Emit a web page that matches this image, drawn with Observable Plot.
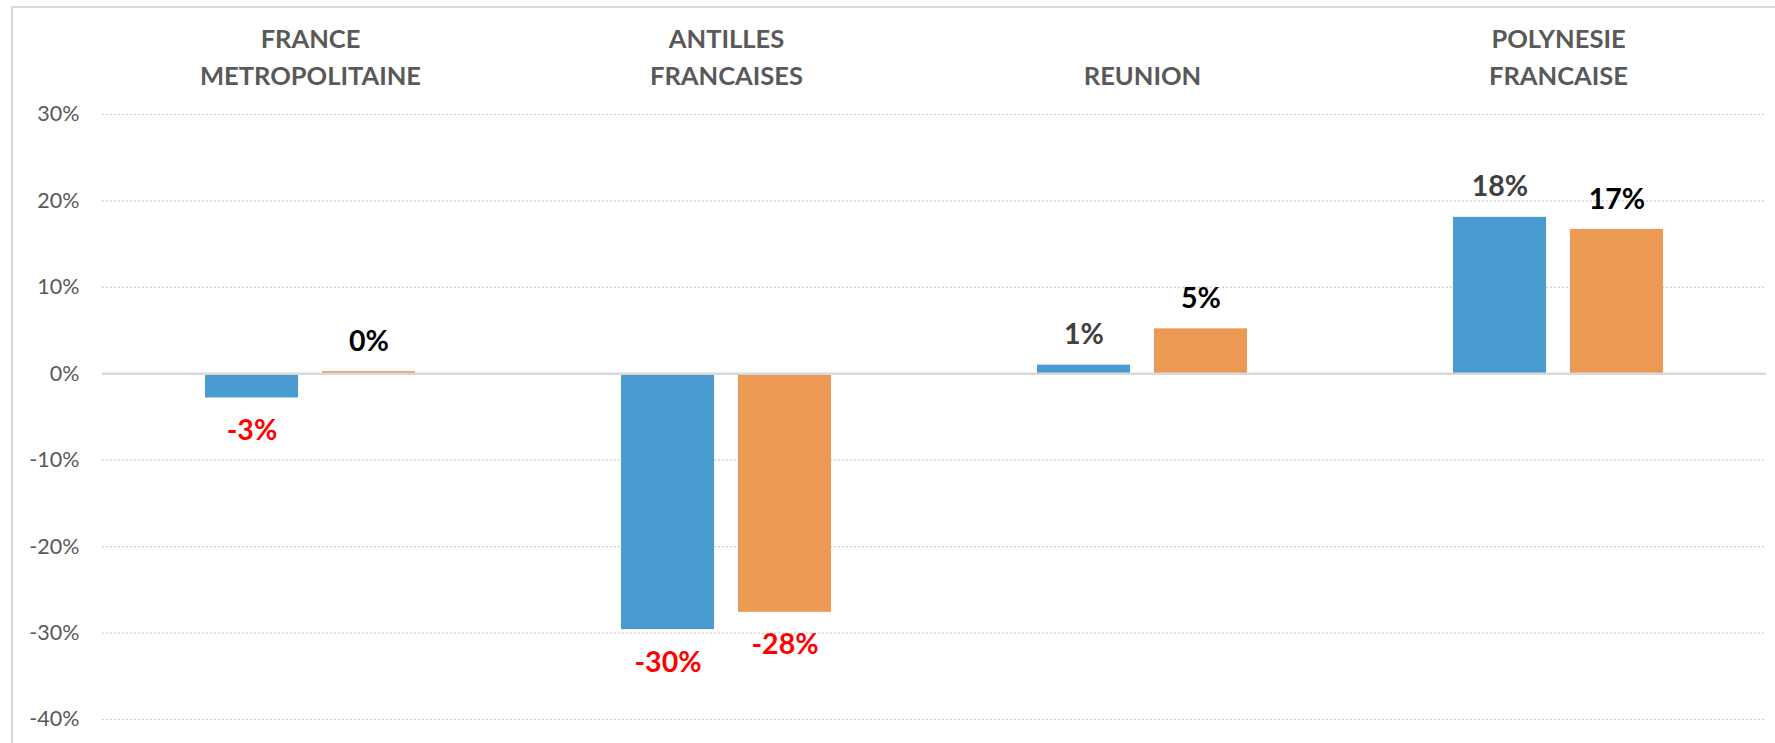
<!DOCTYPE html>
<html>
<head>
<meta charset="utf-8">
<script src="https://cdn.jsdelivr.net/npm/d3@7"></script>
<script src="https://cdn.jsdelivr.net/npm/@observablehq/plot@0.6"></script>
<style>
  html, body { margin: 0; padding: 0; background: #fff; }
  #wrap { position: relative; width: 1775px; height: 743px; overflow: hidden; }
  #frame { position: absolute; left: 11px; top: 6px; width: 1800px; height: 800px;
           border-left: 2px solid #d9d9d9; border-top: 2px solid #d9d9d9; box-sizing: border-box; }
  #chart { position: absolute; left: 0; top: 0; }
</style>
</head>
<body>
<div id="wrap"><div id="frame"></div><div id="chart"></div></div>
<script>
// ---- data ----
const regions = ["FRANCE METROPOLITAINE", "ANTILLES FRANCAISES", "REUNION", "POLYNESIE FRANCAISE"];
const regionLabels = ["FRANCE\nMETROPOLITAINE", "ANTILLES\nFRANCAISES", "REUNION", "POLYNESIE\nFRANCAISE"];
const seriesNames = ["Série 1", "Série 2"];
const serie1 = [-2.8, -29.6, 1.0, 18.1];
const serie2 = [0.25, -27.6, 5.2, 16.7];
const yTicks = [-40, -30, -20, -10, 0, 10, 20, 30];
const seriesColors = ["#4b9bd3", "#eb9953"];
const labelColors = ["#404040", "#000000"];
const negativeColor = "#ff0000";

// ---- table built from arrays ----
const rows = [];
regions.forEach((r, i) => {
  rows.push({region: r, serie: seriesNames[0], value: serie1[i], si: 0});
  rows.push({region: r, serie: seriesNames[1], value: serie2[i], si: 1});
});
const pos = rows.filter(d => d.value >= 0);
const neg = rows.filter(d => d.value < 0);
const labelMap = new Map(regions.map((r, i) => [r, regionLabels[i]]));
const fmt = v => Math.round(v) + "%";

const chart = Plot.plot({
  width: 1775,
  height: 743,
  marginTop: 114,
  marginBottom: 24,
  marginLeft: 100,
  marginRight: 8,
  style: {fontFamily: "Lato, 'Open Sans', sans-serif", background: "transparent"},
  fx: {domain: regions, padding: 0, label: null},
  x: {domain: seriesNames, paddingInner: 0.203, paddingOuter: 0.8675, axis: null},
  y: {domain: [-40, 30], label: null},
  color: {type: "identity"},
  marks: [
    Plot.gridY(yTicks.filter(t => t !== 0), {stroke: "#d0d0d0", strokeOpacity: 1, strokeWidth: 1.2, strokeDasharray: "2,2"}),
    Plot.barY(rows, {fx: "region", x: "serie", y: "value", fill: d => seriesColors[d.si]}),
    Plot.ruleY([0], {stroke: "#d9d9d9", strokeWidth: 2.5}),
    Plot.axisY({ticks: yTicks, tickFormat: d => d + "%", tickSize: 0, tickPadding: 23,
                fontSize: 21.5, fill: "#595959", label: null}),
    Plot.axisFx({anchor: "top", tickSize: 0, tickPadding: 30, tickFormat: d => labelMap.get(d),
                 fontSize: 25.5, fontWeight: "bold", fill: "#595959", lineHeight: 1.45, label: null}),
    Plot.text(pos, {fx: "region", x: "serie", y: "value", text: d => fmt(d.value), dy: -30,
                    fontSize: 28.5, fontWeight: "bold", fill: d => labelColors[d.si]}),
    Plot.text(neg, {fx: "region", x: "serie", y: "value", text: d => fmt(d.value), dy: 33,
                    fontSize: 28.5, fontWeight: "bold", fill: negativeColor})
  ]
});
document.getElementById("chart").appendChild(chart);
</script>
</body>
</html>
